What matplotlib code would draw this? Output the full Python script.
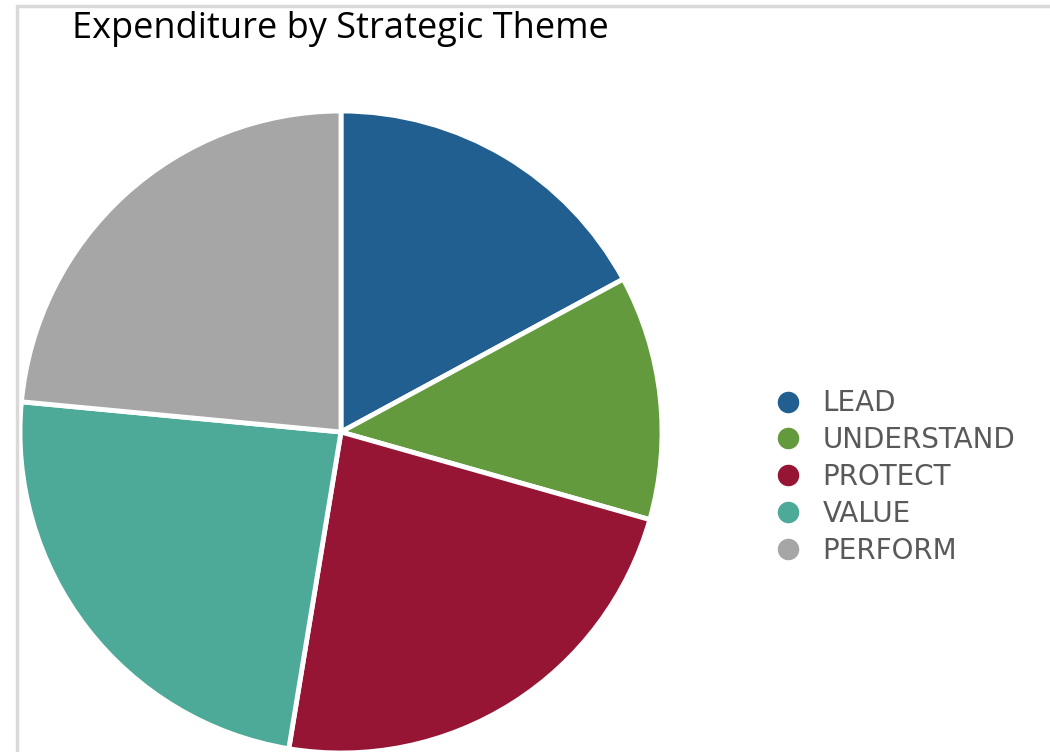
import matplotlib
matplotlib.use("Agg")
import matplotlib.pyplot as plt
from matplotlib.lines import Line2D
from matplotlib.patches import Rectangle

# expenditure share by strategic theme (percent)
themes = ['LEAD', 'UNDERSTAND', 'PROTECT', 'VALUE', 'PERFORM']
share = [17.1, 12.3, 23.2, 23.9, 23.5]
colors = ['#215f91', '#639a3e', '#961535', '#4daa98', '#a6a6a6']

fig = plt.figure(figsize=(10.5, 7.52), dpi=100)
ax = fig.add_axes([0, 0, 1, 1])

# light frame round the chart (only left and top show)
fig.patches.append(Rectangle((17 / 1050, -0.1), 1.2, (752 - 6) / 752 + 0.1,
                             transform=fig.transFigure, fill=False,
                             edgecolor='#d9d9d9', linewidth=2.5, zorder=0))

ax.pie(share, colors=colors, startangle=90, counterclock=False,
       center=(341, 320), radius=321,
       wedgeprops=dict(edgecolor='white', linewidth=3.5))
ax.set_xlim(0, 1050)
ax.set_ylim(0, 752)
ax.set_aspect('equal')
ax.axis('off')

ax.text(72, 752 - 29, 'Expenditure by Strategic Theme', fontsize=26,
        family='Open Sans', color='black', va='center', ha='left')

handles = [Line2D([], [], marker='o', linestyle='none', markersize=17,
                  markerfacecolor=c, markeredgecolor='white', markeredgewidth=1.5)
           for c in colors]
leg = ax.legend(handles, themes, loc='center left',
                bbox_to_anchor=(760 / 1050, 1 - 477 / 752), frameon=False,
                fontsize=20, labelspacing=0.32, handletextpad=0.75,
                handlelength=1.0, borderpad=0)
for t in leg.get_texts():
    t.set_color('#595959')

fig.savefig('out.png', dpi=100)
